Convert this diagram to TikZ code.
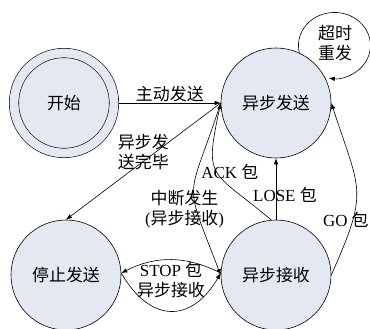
\documentclass[tikz,border=0pt]{standalone}
\usepackage{fontspec}
\setmainfont{Liberation Serif}
\newfontfamily\zhfont{Noto Sans CJK SC}
\newcommand{\zh}[1]{{\zhfont #1}}
\usetikzlibrary{arrows.meta,positioning}
\definecolor{stfill}{RGB}{227,232,243}

\begin{document}
\begin{tikzpicture}[x=1bp, y=1bp,
    font=\fontsize{17}{20}\selectfont,
    state/.style={circle, draw=black, line width=0.6bp, fill=stfill, minimum size=110bp, inner sep=0pt, font=\fontsize{17}{20}\selectfont\zhfont},
    startstate/.style={state, minimum size=100bp, double=stfill, double distance=8.8bp, outer sep=5bp},
    arrow/.style={-{Latex[length=6bp,width=4.5bp]}, line width=0.6bp},
    lbl/.style={align=center, inner sep=1bp},
]
\useasboundingbox (0,0) rectangle (370,329);

\node[startstate] (start) at (64,226) {开始};
\node[state] (send) at (276,226) {异步发送};
\node[state] (stop) at (66,54)  {停止发送};
\node[state] (recv) at (276,54) {异步接收};

\draw[arrow] (start) -- (send) node[lbl, midway, above] {\zh{主动发送}};
\draw[arrow] (send.west) -- (stop.north) node[lbl, midway, yshift=9bp] {\zh{异步发}\\\zh{送完毕}};
\draw[arrow] (send.west) to[out=252, in=111, looseness=1.6]
    node[lbl, pos=.6, xshift=-10bp, yshift=-9bp] {\zh{中断发生}\\(\zh{异步接收})} (recv.west);
\draw[arrow] (recv.95) to[out=140, in=258, looseness=1.6]
    node[lbl, pos=.5, xshift=13bp] {ACK \zh{包}} (send.west);
\draw[arrow] (recv) -- node[lbl, xshift=9bp, yshift=-6bp] {LOSE \zh{包}} (send);
\draw[arrow] (recv.east) to[out=66, in=288, looseness=1.4]
    node[lbl, pos=.28, xshift=-7bp] {GO \zh{包}} (send.east);
\draw[arrow] (recv.178) to[bend right=27]
    node[lbl, midway, yshift=-10bp] {STOP \zh{包}} (stop.2);
\draw[arrow] (stop.2) to[bend right=60, looseness=1.5]
    node[lbl, midway, yshift=21bp] {\zh{异步接收}} (recv.178);

% self loop
\draw[arrow] (send.65) arc[start angle=193, end angle=-99, x radius=36, y radius=33];
\node[lbl] (retry) at (335,286) {\zh{超时}\\\zh{重发}};
\end{tikzpicture}
\end{document}
